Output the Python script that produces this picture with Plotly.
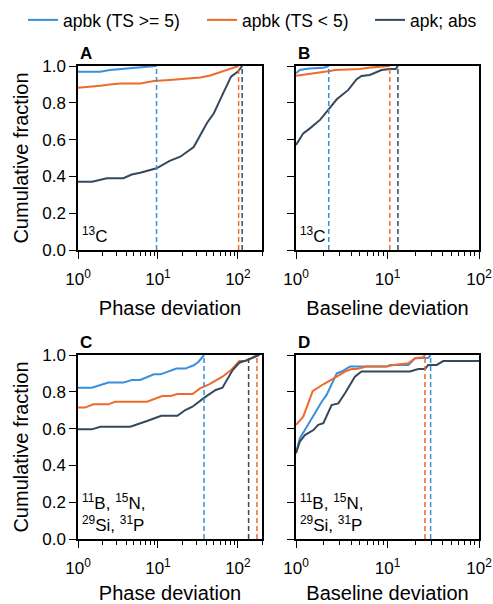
import math
import plotly.graph_objects as go

# ---------------- data ----------------
series_names = ["apbk (TS >= 5)", "apbk (TS < 5)", "apk; abs"]
series_colors = ["#3a8fd9", "#ef6a2c", "#34495e"]

# Panel A: Phase deviation, 13C
a_blue_x = [1, 1.9, 2.5, 3.4, 5.5, 7.3, 9.6]
a_blue_y = [0.969, 0.969, 0.978, 0.984, 0.991, 0.996, 1.0]
a_orange_x = [1, 1.3, 1.9, 2.5, 3.4, 6, 8.9, 14, 23, 34, 45, 60, 81, 102]
a_orange_y = [0.882, 0.886, 0.893, 0.9, 0.905, 0.905, 0.918, 0.924, 0.929, 0.937, 0.948, 0.965, 0.987, 1.0]
a_dark_x = [1, 1.5, 2.3, 3.7, 4.7, 6, 9.6, 14, 19, 28, 41, 50, 65, 82, 100, 113]
a_dark_y = [0.371, 0.371, 0.39, 0.39, 0.41, 0.42, 0.444, 0.484, 0.507, 0.56, 0.69, 0.743, 0.85, 0.942, 0.97, 1.0]
a_cut = [9.6, 102, 113]

# Panel B: Baseline deviation, 13C
b_blue_x = [1, 1.1, 1.4, 2.0, 2.28]
b_blue_y = [0.96, 0.978, 0.987, 0.99, 1.0]
b_orange_x = [1, 1.2, 1.68, 2.35, 2.67, 5.0, 6.2, 10.6]
b_orange_y = [0.947, 0.952, 0.96, 0.973, 0.978, 0.984, 0.991, 1.0]
b_dark_x = [1, 1.2, 1.42, 1.83, 2.25, 2.79, 3.73, 4.6, 5.2, 6.4, 8.6, 10.6, 12.3, 13.0]
b_dark_y = [0.571, 0.634, 0.661, 0.707, 0.761, 0.819, 0.87, 0.928, 0.946, 0.951, 0.978, 0.984, 0.984, 1.0]
b_cut = [2.28, 10.6, 13.0]

# Panel C: Phase deviation, 11B/15N/29Si/31P
c_blue_x = [1, 1.49, 2.4, 3.7, 4.7, 6.0, 8.9, 10.8, 17, 22, 28, 32, 37.7]
c_blue_y = [0.822, 0.822, 0.85, 0.85, 0.864, 0.864, 0.895, 0.895, 0.926, 0.926, 0.944, 0.962, 1.0]
c_orange_x = [1, 1.22, 1.56, 2.4, 2.9, 7.3, 11.3, 14.3, 17.5, 27, 34, 43.6, 64, 82, 104, 126, 146, 173]
c_orange_y = [0.714, 0.714, 0.732, 0.732, 0.746, 0.746, 0.777, 0.777, 0.788, 0.788, 0.82, 0.84, 0.882, 0.918, 0.967, 0.967, 0.982, 1.0]
c_dark_x = [1, 1.49, 1.9, 4.5, 7.3, 11, 17.5, 22, 27, 39.6, 52.8, 64, 86, 104, 120, 146, 185]
c_dark_y = [0.596, 0.596, 0.61, 0.61, 0.641, 0.67, 0.67, 0.701, 0.719, 0.774, 0.81, 0.822, 0.918, 0.958, 0.967, 0.982, 1.0]
c_cut = [37.7, 173, 136]

# Panel D: Baseline deviation, 11B/15N/29Si/31P
d_blue_x = [1, 1.1, 1.25, 1.55, 1.91, 2.16, 2.45, 2.79, 3.16, 3.89, 9.8, 10.6, 16.9, 20, 28, 29.6]
d_blue_y = [0.466, 0.547, 0.592, 0.674, 0.746, 0.783, 0.84, 0.9, 0.91, 0.937, 0.937, 0.946, 0.946, 0.982, 0.985, 1.0]
d_orange_x = [1, 1.09, 1.2, 1.52, 1.99, 2.79, 3.43, 4.06, 4.6, 5.9, 9.8, 11.6, 14.3, 16.9, 20, 24.6, 25.7]
d_orange_y = [0.62, 0.641, 0.665, 0.804, 0.841, 0.882, 0.91, 0.924, 0.924, 0.937, 0.937, 0.946, 0.949, 0.955, 0.982, 0.988, 1.0]
d_dark_x = [1, 1.1, 1.25, 1.55, 1.75, 1.99, 2.45, 2.9, 3.43, 4.4, 5.2, 17.6, 21.7, 25.7, 27.9, 34.5, 40.7, 100]
d_dark_y = [0.466, 0.529, 0.565, 0.592, 0.62, 0.629, 0.728, 0.737, 0.792, 0.882, 0.91, 0.91, 0.924, 0.924, 0.946, 0.946, 0.967, 0.967]
d_cut = [29.6, 25.7, None]

panel_letters = ["A", "B", "C", "D"]
panel_nuclei = ["<sup>13</sup>C", "<sup>13</sup>C",
                "<sup>11</sup>B, <sup>15</sup>N,<br><sup>29</sup>Si, <sup>31</sup>P",
                "<sup>11</sup>B, <sup>15</sup>N,<br><sup>29</sup>Si, <sup>31</sup>P"]
x_titles = ["Phase deviation", "Baseline deviation", "Phase deviation", "Baseline deviation"]
x_max = [200, 100, 200, 100]
x_tickvals = [1, 10, 100]
x_ticktext = ["10<sup>0</sup>", "10<sup>1</sup>", "10<sup>2</sup>"]
y_tickvals = [0, 0.2, 0.4, 0.6, 0.8, 1.0]
y_title = "Cumulative fraction"

panels = [
    (a_blue_x, a_blue_y, a_orange_x, a_orange_y, a_dark_x, a_dark_y, a_cut),
    (b_blue_x, b_blue_y, b_orange_x, b_orange_y, b_dark_x, b_dark_y, b_cut),
    (c_blue_x, c_blue_y, c_orange_x, c_orange_y, c_dark_x, c_dark_y, c_cut),
    (d_blue_x, d_blue_y, d_orange_x, d_orange_y, d_dark_x, d_dark_y, d_cut),
]

# ---------------- layout geometry (pixels) ----------------
W, H = 493, 604
FONT = "Liberation Sans, Arial, sans-serif"
col_px = [(78, 262), (296, 479)]
row_px = [(66, 250), (355, 539)]

fig = go.Figure()
legend_widths = [134, 123, 70]

for i, p in enumerate(panels):
    xs = [p[0], p[2], p[4]]
    ys = [p[1], p[3], p[5]]
    cuts = p[6]
    xa = "x" if i == 0 else f"x{i+1}"
    ya = "y" if i == 0 else f"y{i+1}"
    for k in range(3):
        fig.add_trace(go.Scatter(
            x=xs[k], y=ys[k], mode="lines", name=series_names[k],
            line=dict(color=series_colors[k], width=2),
            xaxis=xa, yaxis=ya, showlegend=(i == 0),
            legendwidth=legend_widths[k], legendrank=k + 1))
    for k in range(3):
        if cuts[k] is None:
            continue
        fig.add_trace(go.Scatter(
            x=[cuts[k], cuts[k]], y=[0, 1], mode="lines",
            line=dict(color=series_colors[k], width=1.5, dash="5px,3px"),
            xaxis=xa, yaxis=ya, showlegend=False, hoverinfo="skip"))

minor_vals = [m * 10 ** e for e in range(0, 3) for m in range(2, 10)]

layout = dict(
    width=W, height=H,
    margin=dict(l=0, r=0, t=0, b=0, autoexpand=False),
    paper_bgcolor="white", plot_bgcolor="white",
    font=dict(family=FONT, size=17, color="black"),
    showlegend=True,
    legend=dict(orientation="h", x=23 / W, xanchor="left", y=1 - 20 / H, yanchor="middle",
                font=dict(size=17.5), bgcolor="rgba(0,0,0,0)", borderwidth=0,
                traceorder="normal"),
    annotations=[],
)

for i in range(4):
    r, c = divmod(i, 2)
    x0, x1 = col_px[c]
    y0, y1 = row_px[r]
    xdom = [x0 / W, x1 / W]
    ydom = [1 - y1 / H, 1 - y0 / H]
    xk = "xaxis" if i == 0 else f"xaxis{i+1}"
    yk = "yaxis" if i == 0 else f"yaxis{i+1}"
    yref = "y" if i == 0 else f"y{i+1}"
    xref = "x" if i == 0 else f"x{i+1}"
    layout[xk] = dict(
        type="log", domain=xdom, anchor=yref, range=[0, math.log10(x_max[i])],
        automargin=False,
        showline=True, linecolor="black", linewidth=1.5, mirror=True,
        ticks="outside", ticklen=7, tickwidth=1.3, tickcolor="black",
        ticklabelstandoff=6,
        tickvals=x_tickvals, ticktext=x_ticktext, showgrid=False, zeroline=False,
        minor=dict(tickvals=minor_vals, ticks="outside", ticklen=4, tickwidth=1,
                   tickcolor="black", showgrid=False),
        title=dict(text=x_titles[i], standoff=13),
    )
    ydict = dict(
        domain=ydom, anchor=xref, range=[0, 1], automargin=False,
        showline=True, linecolor="black", linewidth=1.5, mirror=True,
        ticks="outside", ticklen=7, tickwidth=1.3, tickcolor="black",
        tickvals=y_tickvals, tickformat=".1f", showgrid=False, zeroline=False,
        showticklabels=(c == 0),
    )
    if c == 0:
        ydict["title"] = dict(text=y_title, standoff=8)
    layout[yk] = ydict
    layout["annotations"].append(dict(
        text=f"<b>{panel_letters[i]}</b>", xref="paper", yref="paper",
        x=x0 / W, y=1 - (y0 - 1) / H, xanchor="left", yanchor="bottom",
        showarrow=False, font=dict(size=17)))
    layout["annotations"].append(dict(
        text=panel_nuclei[i], xref=f"{xref} domain", yref=f"{yref} domain",
        x=0.01, y=0.01, xanchor="left", yanchor="bottom", align="left",
        showarrow=False, font=dict(size=17)))

fig.update_layout(**layout)
fig.write_html("out.html", config={"displayModeBar": False},
               post_script="document.body.style.margin='0';document.body.style.overflow='hidden';")
